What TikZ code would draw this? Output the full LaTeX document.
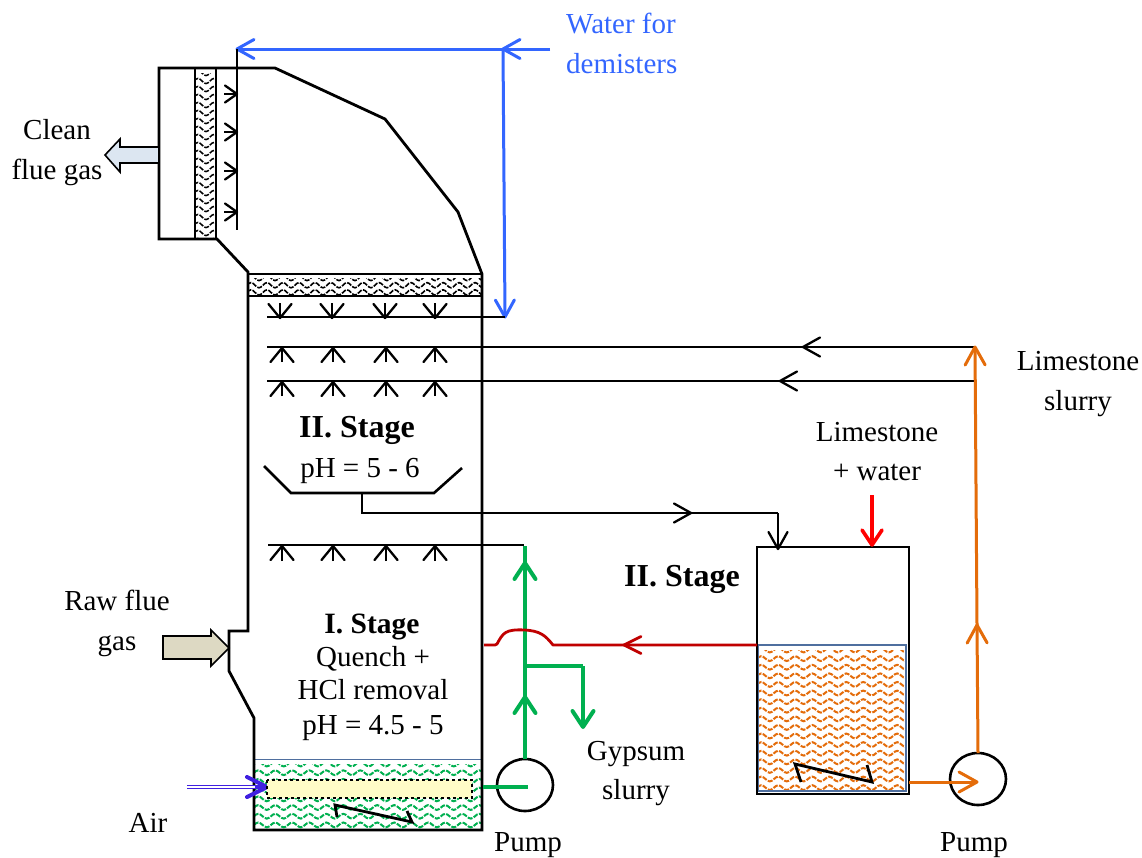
\documentclass[tikz,border=0pt]{standalone}
\usepackage{fontspec}
\setmainfont{Liberation Serif}
\usetikzlibrary{arrows.meta,shapes.geometric}
\definecolor{bluew}{HTML}{3366FF}
\definecolor{greenp}{HTML}{00B050}
\definecolor{orangep}{HTML}{E46C0A}
\definecolor{redp}{HTML}{C00000}
\definecolor{airc}{HTML}{4020E0}
\definecolor{edgeb}{HTML}{4F6F9F}
\definecolor{cleanc}{HTML}{DCE6F1}
\definecolor{rawc}{HTML}{DDD9C3}
\pgfdeclarearrow{
  name=OpenVee,
  parameters={\the\pgfarrowlength,\the\pgfarrowwidth,\the\pgflinewidth},
  setup code={
    \pgfarrowssettipend{0pt}
    \pgfarrowssetbackend{-\pgfarrowlength}
    \pgfarrowssetlineend{-1pt}
    \pgfarrowssavethe\pgfarrowlength
    \pgfarrowssavethe\pgfarrowwidth
  },
  drawing code={
    \pgfsetdash{}{0pt}
    \pgfsetroundcap
    \pgfsetroundjoin
    \pgfpathmoveto{\pgfqpoint{-\pgfarrowlength}{.5\pgfarrowwidth}}
    \pgfpathlineto{\pgfqpoint{0pt}{0pt}}
    \pgfpathlineto{\pgfqpoint{-\pgfarrowlength}{-.5\pgfarrowwidth}}
    \pgfusepathqstroke
  },
  defaults={length=14pt,width=20pt}
}
% wave hatch: x0 y0 x1 y1 colour period rowgap amp width
\newcommand{\wavefill}[9]{%
  \begin{scope}
    \clip (#1,#2) rectangle (#3,#4);
    \pgfmathsetmacro{\wq}{#6/4}
    \pgfmathtruncatemacro{\wn}{(#3-#1)/#6+2}
    \pgfmathsetmacro{\wys}{#2+#7}
    \pgfmathsetmacro{\wyl}{#4+#7}
    \foreach \ry in {#2,\wys,...,\wyl}{
      \draw[#5,line width=#9,dash pattern=on 5pt off 1.4pt]
        (#1-1,\ry) \foreach \i in {1,...,\wn}{
          sin ++(\wq,-#8) cos ++(\wq,#8) sin ++(\wq,#8) cos ++(\wq,-#8)};
    }
  \end{scope}}
% small spray arrow: x, line y, tail y
\newcommand{\sprayarrow}[3]{%
  \coordinate (sprT) at (#1,#3);
  \coordinate (sprH) at (#1,#2);
  \draw[wall2,sbarb] (sprT) -- (sprH);}
\tikzset{
  vee/.style n args={2}{-{OpenVee[length=#1pt,width=#2pt]}},
  wall/.style={draw=black,line width=2.8pt,line join=miter},
  wall2/.style={draw=black,line width=2.3pt},
  sbarb/.style={vee={14}{23}},
  dbarb/.style={vee={12}{17}},
  bbarb/.style={vee={17}{19}},
  lbl/.style={inner sep=0pt,align=center,text height=20pt,text depth=2pt,font=\fontsize{29}{34}\selectfont},
  lblb/.style={lbl,font=\fontsize{32}{36}\selectfont\bfseries},
  lblc/.style={lbl,font=\fontsize{29.5}{36}\selectfont\bfseries},
  pipeb/.style={draw=bluew,line width=3pt},
  pipeo/.style={draw=orangep,line width=3pt},
  pipeg/.style={draw=greenp,line width=4pt},
  piper/.style={draw=redp,line width=2.8pt},
  pumpc/.style={draw=black,line width=2.6pt,ellipse,minimum width=56pt,minimum height=52pt,inner sep=0pt}
}
\begin{document}
\begin{tikzpicture}[x=1pt,y=-1pt]
\useasboundingbox (0,0) rectangle (1142,857);
\fill[white] (0,0) rectangle (1142,857);

% hatched fills
\wavefill{195}{73}{216}{239}{black}{16}{8}{2.6}{1.5pt}
\wavefill{248}{278}{482}{296}{black}{16}{7.2}{2.6}{1.6pt}
\wavefill{255}{764}{481}{830}{greenp}{17}{8.7}{2.4}{2pt}
\draw[edgeb,line width=.8pt] (255,759) -- (481,759);
\wavefill{758}{650}{906}{791}{orangep}{17}{8.6}{2.4}{2pt}
\draw[edgeb,line width=1.2pt] (758,645) rectangle (906,791);

% absorber shell
\coordinate (a1) at (159,68);
\coordinate (a2) at (275,68);
\coordinate (a3) at (385,119);
\coordinate (a4) at (458,212);
\coordinate (a5) at (482,274);
\coordinate (a6) at (482,830);
\coordinate (a7) at (254,830);
\coordinate (a8) at (254,718);
\coordinate (a9) at (229,671);
\coordinate (a10) at (229,631);
\coordinate (a11) at (248,631);
\coordinate (a12) at (248,272);
\coordinate (a13) at (217,239);
\coordinate (a14) at (159,239);
\draw[wall] (a1) -- (a2) -- (a3) -- (a4) -- (a5) -- (a6) -- (a7) -- (a8) -- (a9) -- (a10) -- (a11) -- (a12) -- (a13) -- (a14) -- cycle;
\draw[wall] (195,68) -- (195,239) (216,68) -- (216,239);
\draw[wall] (248,274) rectangle (482,296);

% top water line
\coordinate (w0) at (550,49);
\coordinate (wc) at (503,49);
\coordinate (wl) at (237,49);
\coordinate (wd) at (505,317);
\coordinate (wsb) at (237,230);
\draw[pipeb,bbarb] (w0) -- (wc);
\draw[pipeb,bbarb] (wc) -- (wl);
\draw[pipeb,bbarb] (wc) -- (wd);
\draw[wall2,line width=2.6pt] (wl) -- (wsb);
\foreach \yy in {94,132,171,212}{
  \coordinate (dT) at (224,\yy);
  \coordinate (dH) at (237,\yy);
  \draw[wall2,dbarb] (dT) -- (dH);
}

% spray levels
\coordinate (s1l) at (267,317);
\draw[wall2,line width=2.6pt] (s1l) -- (wd);
\foreach \xx in {280,332,385,435}{\sprayarrow{\xx}{318}{303}}
\coordinate (s2l) at (267,347);
\coordinate (s2r) at (975,347);
\coordinate (s2a) at (860,347);
\coordinate (s2b) at (803,347);
\draw[wall2,line width=2.6pt] (s2l) -- (s2r);
\draw[wall2,bbarb] (s2a) -- (s2b);
\foreach \xx in {282,333,386,435}{\sprayarrow{\xx}{348}{362}}
\coordinate (s3l) at (267,381);
\coordinate (s3r) at (975,381);
\coordinate (s3a) at (838,381);
\coordinate (s3b) at (780,381);
\draw[wall2,line width=2.6pt] (s3l) -- (s3r);
\draw[wall2,bbarb] (s3a) -- (s3b);
\foreach \xx in {282,333,386,435}{\sprayarrow{\xx}{382}{396}}
\coordinate (s4l) at (268,545);
\coordinate (s4r) at (524,545);
\draw[wall2] (s4l) -- (s4r);
\foreach \xx in {282,333,386,435}{\sprayarrow{\xx}{546}{561}}

% collector
\coordinate (c1) at (264,466);
\coordinate (c2) at (291,493);
\coordinate (c3) at (434,493);
\coordinate (c4) at (462,468);
\coordinate (c5) at (362,493);
\coordinate (c6) at (362,513);
\coordinate (c7) at (778,513);
\coordinate (c8) at (778,549);
\coordinate (c9) at (640,513);
\coordinate (c10) at (691,513);
\draw[wall2,line width=2.6pt] (c1) -- (c2) -- (c3) -- (c4);
\draw[wall2,line width=2.6pt] (c5) -- (c6) -- (c7);
\draw[wall2,bbarb] (c9) -- (c10);
\draw[wall2,bbarb] (c7) -- (c8);

% tank
\coordinate (t1) at (757,794);
\coordinate (t2) at (757,547);
\coordinate (t3) at (909,547);
\coordinate (t4) at (909,794);
\draw[wall] (t1) -- (t2) -- (t3) -- (t4) -- cycle;
\draw[wall2,line width=2.8pt] (801,782) -- (795,764) -- (872,782) -- (867,765);

% limestone feed
\coordinate (lf1) at (872,495);
\coordinate (lf2) at (872,545);
\draw[draw=red,line width=3.6pt,vee={15}{20}] (lf1) -- (lf2);

% basin internals
\coordinate (air1) at (187,787);
\coordinate (air2) at (267,787);
\draw[draw=airc,line width=1pt,double=white,double distance=1.4pt] (air1) -- (262,787);
\draw[draw=airc,line width=4pt,vee={20}{20}] (255,787) -- (air2);
\draw[fill=yellow!22!white,draw=black,line width=1.6pt,dashed] (267,780) rectangle (472,798);
\draw[wall2,line width=2.8pt] (337,817) -- (335,805) -- (412,822) -- (407,811);

% pumps
\node[pumpc] (pump1) at (525,785) {};
\node[pumpc] (pump2) at (978,779) {};

% green circuit
\coordinate (g0) at (483,787);
\coordinate (g1) at (528,787);
\coordinate (g2) at (525,759);
\coordinate (g3) at (525,697);
\coordinate (g4) at (525,563);
\coordinate (g5) at (525,546);
\coordinate (g6) at (525,666);
\coordinate (g7) at (583,666);
\coordinate (g8) at (583,727);
\draw[pipeg] (g0) -- (g1);
\draw[pipeg] (g2) -- (g5);
\draw[pipeg,vee={16}{21}] (g2) -- (g3);
\draw[pipeg,vee={16}{21}] (g6) -- (g4);
\draw[pipeg] (g6) -- (g7);
\draw[pipeg,vee={16}{21}] (g7) -- (g8);

% red return
\coordinate (r0) at (757,645);
\coordinate (r1) at (553,645);
\coordinate (r2) at (495,645);
\coordinate (r3) at (484,645);
\coordinate (ra) at (680,645);
\coordinate (rb) at (624,645);
\draw[piper,line join=round] (r0) -- (r1) .. controls (545,635) and (540,631) .. (525,630) .. controls (505,629) and (503,633) .. (497,644) -- (r2) -- (r3);
\draw[piper,vee={17}{17}] (ra) -- (rb);

% orange circuit
\coordinate (o0) at (909,782);
\coordinate (o1) at (977,782);
\coordinate (o2) at (978,753);
\coordinate (o3) at (977,625);
\coordinate (o4) at (975,347);
\draw[pipeo,vee={18}{20}] (o0) -- (o1);
\draw[pipeo,vee={18}{20}] (o2) -- (o3);
\draw[pipeo,vee={18}{20}] (o3) -- (o4);

% block arrows
\draw[draw=black,line width=1.6pt,fill=cleanc] (159,147) -- (120,147) -- (120,139) -- (105,155) -- (120,172) -- (120,163) -- (159,163) -- cycle;
\draw[draw=black,line width=1.6pt,fill=rawc] (163,636) -- (211,636) -- (211,630) -- (229,648) -- (211,666) -- (211,659) -- (163,659) -- cycle;

% labels
\node[lbl,text=bluew,align=left,anchor=west] (lw1) at (566,24) {Water for};
\node[lbl,text=bluew,align=left,anchor=west] (lw2) at (566,64) {demisters};
\node[lbl] (lc1) at (57,130) {Clean};
\node[lbl] (lc2) at (57,170) {flue gas};
\node[lbl] (lls1) at (1078,361) {Limestone};
\node[lbl] (lls2) at (1078,401) {slurry};
\node[lblb] (ls2) at (357,428) {II. Stage};
\node[lbl] (lph2) at (360,468) {pH = 5 - 6};
\node[lbl] (ll1) at (877,432) {Limestone};
\node[lbl] (ll2) at (877,471) {+ water};
\node[lblb] (ls2b) at (682,577) {II. Stage};
\node[lbl] (lr1) at (117,601) {Raw flue};
\node[lbl] (lr2) at (117,641) {gas};
\node[lblc] (ls1) at (372,624) {I. Stage};
\node[lbl] (lq) at (373,657) {Quench +};
\node[lbl] (lh) at (373,690) {HCl removal};
\node[lbl] (lph1) at (373,725) {pH = 4.5 - 5};
\node[lbl] (lg1) at (636,751) {Gypsum};
\node[lbl] (lg2) at (636,790) {slurry};
\node[lbl] (lp1) at (528,842) {Pump};
\node[lbl] (lp2) at (974,842) {Pump};
\node[lbl] (la) at (148,823) {Air};
\end{tikzpicture}
\end{document}
